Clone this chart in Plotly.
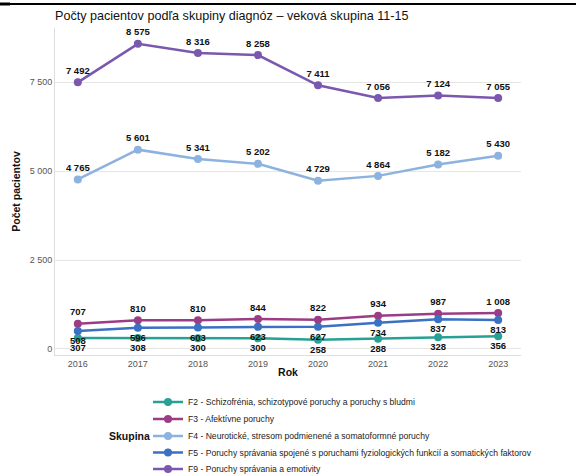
import plotly.graph_objects as go

years = [2016, 2017, 2018, 2019, 2020, 2021, 2022, 2023]

series_names = [
    "F2 - Schizofrénia, schizotypové poruchy a poruchy s bludmi",
    "F3 - Afektívne poruchy",
    "F4 - Neurotické, stresom podmienené a somatoformné poruchy",
    "F5 - Poruchy správania spojené s poruchami fyziologických funkcií a somatických faktorov",
    "F9 - Poruchy správania a emotivity",
]
f2 = [307, 308, 300, 300, 258, 288, 328, 356]
f3 = [707, 810, 810, 844, 822, 934, 987, 1008]
f4 = [4765, 5601, 5341, 5202, 4729, 4864, 5182, 5430]
f5 = [508, 596, 603, 623, 627, 734, 837, 813]
f9 = [7492, 8575, 8316, 8258, 7411, 7056, 7124, 7055]

series_values = [f2, f3, f4, f5, f9]
colors = ["#27a195", "#9b3d86", "#8cb2e0", "#3a71c3", "#7a58ae"]
label_pos = ["bottom center", "top center", "top center", "bottom center", "top center"]

y_ticks = [0, 2500, 5000, 7500]

FONT = "Liberation Sans, Arial, sans-serif"
W, H = 576, 476
M_L, M_R, M_T, M_B = 55, 55, 28, 121
PLOT_W = W - M_L - M_R
PLOT_H = H - M_T - M_B


def px_to_paper_x(px):
    return (px - M_L) / PLOT_W


def px_to_paper_y(py):
    return (H - M_B - py) / PLOT_H


fig = go.Figure()
legend_ids = ["legend", "legend2", "legend3", "legend4", "legend5"]
for name, vals, col, pos, lg in zip(series_names, series_values, colors, label_pos, legend_ids):
    fig.add_trace(go.Scatter(
        x=years, y=vals, name=name, legend=lg,
        mode="lines+markers+text",
        line=dict(color=col, width=2.5),
        marker=dict(color=col, size=8),
        texttemplate="%{y:,}",
        textposition=pos,
        textfont=dict(family=FONT, size=9.5, color="#111111", weight="bold"),
        cliponaxis=False,
    ))

# one single-entry legend per series keeps the rows tightly stacked
legend_rows = [402, 419, 436, 452.5, 469]
legend_layout = {}
for lg, row in zip(legend_ids, legend_rows):
    legend_layout[lg] = dict(
        x=px_to_paper_x(148), xanchor="left",
        y=px_to_paper_y(row), yanchor="middle",
        font=dict(size=8.6, color="#222222"),
        bgcolor="rgba(0,0,0,0)",
    )

fig.update_layout(
    width=W, height=H,
    margin=dict(l=M_L, r=M_R, t=M_T, b=M_B, autoexpand=False),
    paper_bgcolor="white", plot_bgcolor="white",
    separators=", ",
    font=dict(family=FONT, color="#222222"),
    title=dict(text="Počty pacientov podľa skupiny diagnóz – veková skupina 11-15",
               x=M_L / W, xanchor="left", y=1 - 16 / H, yanchor="middle",
               font=dict(size=12.6, color="#111111")),
    xaxis=dict(
        range=[2015.62, 2023.38], tickvals=years, ticks="",
        tickfont=dict(size=9, color="#555555"),
        showgrid=False, zeroline=False,
        showline=True, linecolor="#dddddd", linewidth=1,
        title=dict(text="Rok", font=dict(size=10.5, color="#111111", weight="bold"), standoff=0),
    ),
    yaxis=dict(
        range=[-170, 9020], tickvals=y_ticks, ticks="",
        tickformat=",",
        tickfont=dict(size=9, color="#555555"),
        showgrid=True, gridcolor="#e6e6e6", zeroline=False,
        showline=True, linecolor="#dddddd", linewidth=1,
        title=dict(text="Počet pacientov", font=dict(size=10.5, color="#111111", weight="bold"), standoff=6),
    ),
    showlegend=True,
    **legend_layout,
)

fig.add_annotation(
    text="<b>Skupina</b>", xref="paper", yref="paper",
    x=px_to_paper_x(107), xanchor="left", y=px_to_paper_y(436), yanchor="middle",
    showarrow=False, font=dict(size=10.5, color="#111111"),
)

# thin rule across the top of the page, heavier at its left end
top = px_to_paper_y(4)
fig.add_shape(type="line", xref="paper", yref="paper", layer="above",
              x0=px_to_paper_x(0), x1=px_to_paper_x(W), y0=top, y1=top,
              line=dict(color="#000000", width=2))
fig.add_shape(type="line", xref="paper", yref="paper", layer="above",
              x0=px_to_paper_x(0), x1=px_to_paper_x(10), y0=top, y1=top,
              line=dict(color="#000000", width=3))

fig.write_html("out.html")
